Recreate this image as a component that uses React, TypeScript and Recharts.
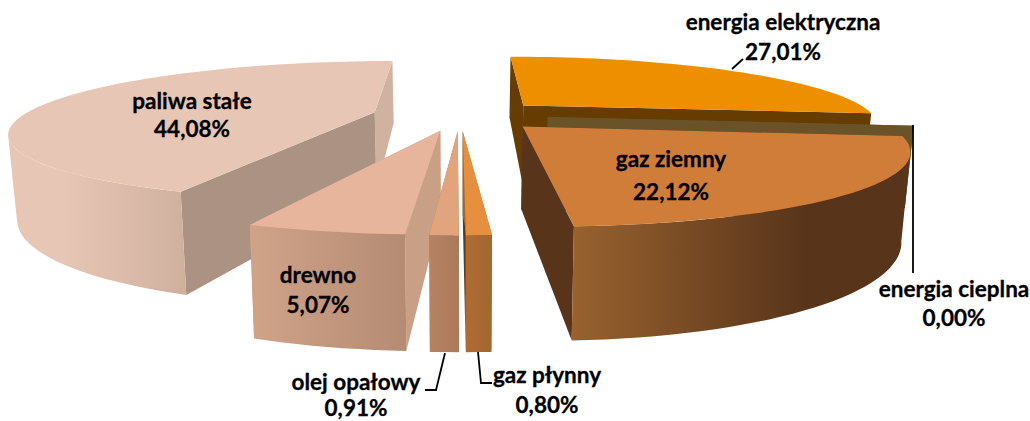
import { PieChart, Pie } from 'recharts';

const sliceNames = ['energia elektryczna', 'energia cieplna', 'gaz ziemny', 'gaz płynny', 'olej opałowy', 'drewno', 'paliwa stałe'];
const sliceValues = [27.01, 0, 22.12, 0.8, 0.91, 5.07, 44.08];
const data = sliceNames.map((name, i) => ({ name, value: sliceValues[i] }));

// back to front, the order the 3D slices have to be painted in
const drawOrder = ['paliwa stałe', 'energia elektryczna', 'energia cieplna', 'gaz ziemny', 'drewno', 'olej opałowy', 'gaz płynny'];

const looks: Record<string, any> = {
  'energia elektryczna': { top: '#ee8f00', cutA: '#663c00', cutB: '#663c00', wall: [[0, '#663c00'], [1, '#663c00']] },
  'energia cieplna': { top: '#6a5329', cutA: '#6a5329', cutB: '#6a5329', wall: [[0, '#6a5329'], [1, '#6a5329']] },
  'gaz ziemny': { top: '#d07d3a', cutA: '#57341a', cutB: '#57341a', wall: [[0, '#99622f'], [0.7, '#57341a'], [1, '#57341a']] },
  'gaz płynny': { top: '#e68f3f', cutA: '#a5672f', cutB: '#5b3a1e', wall: [[0, '#ad6c33'], [1, '#a5672f']] },
  'olej opałowy': { top: '#e2a47c', cutA: '#b07f5e', cutB: '#b07f5e', wall: [[0, '#b68264'], [1, '#ab7a5a']] },
  drewno: { top: '#e6b59b', cutA: '#c99f86', cutB: '#c99f86', wall: [[0, '#d0a389'], [1, '#b48b73']] },
  'paliwa stałe': { top: '#e8c6b6', cutA: '#ab9282', cutB: '#d0b2a0', wall: [[0, '#e8c6b6'], [0.3, '#e8c6b6'], [1, '#cfb09d']] },
};

// label centre x and the two baselines, plus the leader line if there is one
const labels: Record<string, any> = {
  'energia elektryczna': { x: 783, y1: 30, y2: 60, line: '743,59 732,69' },
  'energia cieplna': { x: 954, y1: 297, y2: 326, line: '913,125 913,273' },
  'gaz ziemny': { x: 671, y1: 167, y2: 200, line: '' },
  'gaz płynny': { x: 547, y1: 383, y2: 413, line: '478,352 481,383 492,383' },
  'olej opałowy': { x: 356, y1: 390, y2: 416, line: '445,353 436,390 425,390' },
  drewno: { x: 318, y1: 283, y2: 313, line: '' },
  'paliwa stałe': { x: 192, y1: 109, y2: 137, line: '' },
};

// camera used to fake Excel's perspective pie
const CX = 460;
const CY = 115;
const RX = 351;
const RY = 66;
const PERSPECTIVE = 0.264;
const EXPLODE_X = 0.25;
const EXPLODE_Y = 0.23;
const DEPTH = 79;
const BOTTOM_SHRINK = 0.98;
// the outer wall is only seen between the left and right silhouette of the pie
const WALL_FROM = 108;
const WALL_TO = 250;

const rad = (d: number) => (d * Math.PI) / 180;

function project(clock: number | null, mid: number, bottom = false) {
  const r = clock === null ? 0 : 1;
  const a = clock === null ? 0 : rad(clock);
  const u = r * Math.sin(a) + EXPLODE_X * Math.sin(rad(mid));
  const v = -r * Math.cos(a) - EXPLODE_Y * Math.cos(rad(mid));
  const s = 1 / (1 - PERSPECTIVE * v);
  const x = CX + RX * u * s;
  const y = CY + RY * v * s;
  if (!bottom) return [x, y];
  return [CX + (x - CX) * BOTTOM_SHRINK, y + DEPTH * s];
}

const toPts = (pts: number[][]) => pts.map((p) => `${p[0].toFixed(1)},${p[1].toFixed(1)}`).join(' ');

function arc(from: number, to: number, mid: number, bottom = false) {
  const pts = [];
  const steps = Math.max(1, Math.ceil((to - from) / 2));
  for (let i = 0; i <= steps; i++) pts.push(project(from + ((to - from) * i) / steps, mid, bottom));
  return pts;
}

function Slice(props: any) {
  const name = props.payload.name;
  const look = looks[name];
  const from = 90 - props.startAngle;
  const to = 90 - props.endAngle;
  const mid = (from + to) / 2;
  const cut = (clock: number) => [project(null, mid), project(clock, mid), project(clock, mid, true), project(null, mid, true)];
  const wallFrom = Math.max(from, WALL_FROM);
  const wallTo = Math.min(to, WALL_TO);
  const gid = 'wall' + sliceNames.indexOf(name);
  return (
    <g>
      <defs>
        <linearGradient id={gid} x1="0" x2="1" y1="0" y2="0">
          {look.wall.map((s: any, i: number) => (
            <stop key={i} offset={s[0]} stopColor={s[1]} />
          ))}
        </linearGradient>
      </defs>
      <polygon points={toPts(cut(to))} fill={look.cutB} />
      <polygon points={toPts(cut(from))} fill={look.cutA} />
      {wallTo > wallFrom && (
        <polygon points={toPts([...arc(wallFrom, wallTo, mid), ...arc(wallFrom, wallTo, mid, true).reverse()])} fill={`url(#${gid})`} />
      )}
      {to > from && <polygon points={toPts([project(null, mid), ...arc(from, to, mid)])} fill={look.top} />}
    </g>
  );
}

const textStyle = { fontFamily: 'Lato', fontWeight: 700, fontSize: 22.5, fill: '#000', stroke: '#000', strokeWidth: 0.3 };

function renderLabel(props: any) {
  const name = props.payload.name;
  const l = labels[name];
  const text = `${props.payload.value.toFixed(2).replace('.', ',')}%`;
  return (
    <g key={name}>
      {l.line && <polyline points={l.line} fill="none" stroke="#000" strokeWidth={1.8} />}
      <text x={l.x} y={l.y1} textAnchor="middle" style={textStyle}>
        {name}
      </text>
      <text x={l.x} y={l.y2} textAnchor="middle" style={textStyle}>
        {text}
      </text>
    </g>
  );
}

export default function App() {
  return (
    <div style={{ position: 'absolute', left: 0, top: 0, width: 1030, height: 421, background: '#fff' }}>
      <PieChart width={1030} height={421} margin={{ top: 0, right: 0, bottom: 0, left: 0 }}>
        {drawOrder.map((only, i) => (
          <Pie
            key={only}
            data={data}
            dataKey="value"
            nameKey="name"
            startAngle={90}
            endAngle={-270}
            outerRadius={100}
            stroke="none"
            isAnimationActive={false}
            labelLine={false}
            label={i === drawOrder.length - 1 ? renderLabel : false}
            shape={(p: any) => (p.payload.name === only ? <Slice {...p} /> : <g />)}
          />
        ))}
      </PieChart>
    </div>
  );
}
